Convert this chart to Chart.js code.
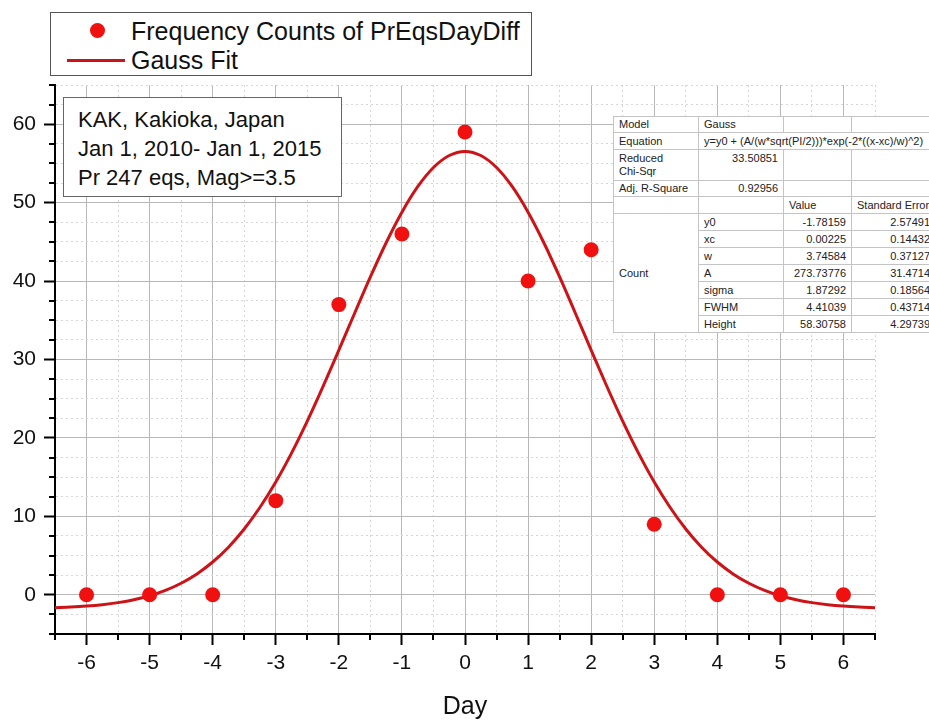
<!DOCTYPE html>
<html>
<head>
<meta charset="utf-8">
<script src="https://cdn.jsdelivr.net/npm/chart.js@4.4.1/dist/chart.umd.min.js"></script>
<style>
  body { margin: 0; background: #fff; font-family: 'Liberation Sans', Arial, sans-serif; }
  #page { position: relative; width: 929px; height: 720px; overflow: hidden; background: #fff; }
  #legendBox { position: absolute; left: 50px; top: 12px; width: 482px; height: 64px; border: 1px solid #555; box-sizing: border-box; background: #fff; }
  .lg-row { position: absolute; left: 80px; font-size: 25px; line-height: 30px; color: #111; white-space: nowrap; }
  .lg-dot { position: absolute; left: 39px; top: 10px; width: 15px; height: 15px; border-radius: 50%; background: #f01010; }
  .lg-line { position: absolute; left: 16px; top: 46px; width: 58px; height: 3px; background: #cc1418; }
  #infoBox { position: absolute; left: 63px; top: 97px; width: 279px; height: 100px; border: 1px solid #666; box-sizing: border-box; background: #fff; padding: 7px 0 0 14px; font-size: 22px; line-height: 29px; color: #111; white-space: nowrap; }
  #fitTable { position: absolute; left: 613px; top: 116px; width: 322px; border-collapse: collapse; table-layout: fixed; background: #fff; font-size: 11px; color: #222; border: 1px solid #888; }
  #fitTable td { border: 1px solid #c4c4c4; padding: 0 5px; line-height: 13px; white-space: nowrap; overflow: hidden; }
  #fitTable td.num { text-align: right; }
</style>
</head>
<body>
<div id="page">
  <canvas id="chart" width="929" height="720"></canvas>

  <div id="legendBox">
    <div class="lg-dot"></div>
    <div class="lg-row" style="top:3px">Frequency Counts of PrEqsDayDiff</div>
    <div class="lg-line"></div>
    <div class="lg-row" style="top:32px">Gauss Fit</div>
  </div>

  <div id="infoBox">KAK, Kakioka, Japan<br>Jan 1, 2010- Jan 1, 2015<br>Pr 247 eqs, Mag&gt;=3.5</div>

  <table id="fitTable">
    <colgroup><col style="width:85px"><col style="width:85px"><col style="width:68px"><col style="width:84px"></colgroup>
    <tbody id="fitBody"></tbody>
  </table>
</div>

<script>
// observed counts per day difference
const days = [-6, -5, -4, -3, -2, -1, 0, 1, 2, 3, 4, 5, 6];
const counts = [0, 0, 0, 12, 37, 46, 59, 40, 44, 9, 0, 0, 0];

// gauss fit curve
const fitDays = [-6.5, -6.25, -6, -5.75, -5.5, -5.25, -5, -4.75, -4.5, -4.25, -4, -3.75, -3.5, -3.25, -3, -2.75, -2.5, -2.25, -2, -1.75, -1.5, -1.25, -1, -0.75, -0.5, -0.25,
  0, 0.25, 0.5, 0.75, 1, 1.25, 1.5, 1.75, 2, 2.25, 2.5, 2.75, 3, 3.25, 3.5, 3.75, 4, 4.25, 4.5, 4.75, 5, 5.25, 5.5, 5.75, 6, 6.25, 6.5];
const fitCounts = [-1.64, -1.56, -1.44, -1.26, -1.00, -0.64, -0.13, 0.56, 1.47, 2.66, 4.18, 6.07, 8.39, 11.16, 14.38, 18.06, 22.14, 26.56, 31.19, 35.90, 40.53, 44.89, 48.78, 52.03, 54.48, 56.01,
  56.53, 56.01, 54.48, 52.03, 48.78, 44.89, 40.53, 35.90, 31.19, 26.56, 22.14, 18.06, 14.38, 11.16, 8.39, 6.07, 4.18, 2.66, 1.47, 0.56, -0.13, -0.64, -1.00, -1.26, -1.44, -1.56, -1.64];

// fit report table
const fitParams = ['y0', 'xc', 'w', 'A', 'sigma', 'FWHM', 'Height'];
const fitValues = ['-1.78159', '0.00225', '3.74584', '273.73776', '1.87292', '4.41039', '58.30758'];
const fitErrors = ['2.57491', '0.14432', '0.37127', '31.4714', '0.18564', '0.43714', '4.29739'];

const body = document.getElementById('fitBody');
body.innerHTML =
  '<tr style="height:16px"><td>Model</td><td>Gauss</td><td></td><td></td></tr>' +
  '<tr style="height:17px"><td>Equation</td><td colspan="3">y=y0 + (A/(w*sqrt(PI/2)))*exp(-2*((x-xc)/w)^2)</td></tr>' +
  '<tr style="height:31px"><td>Reduced<br>Chi-Sqr</td><td class="num" style="vertical-align:top;padding-top:2px">33.50851</td><td></td><td></td></tr>' +
  '<tr style="height:16px"><td>Adj. R-Square</td><td class="num">0.92956</td><td></td><td></td></tr>' +
  '<tr style="height:17px"><td></td><td></td><td>Value</td><td>Standard Error</td></tr>';
fitParams.forEach((p, i) => {
  const tr = document.createElement('tr');
  tr.style.height = '17px';
  tr.innerHTML = (i === 0 ? '<td rowspan="7">Count</td>' : '') +
    '<td>' + p + '</td><td class="num">' + fitValues[i] + '</td><td class="num">' + fitErrors[i] + '</td>';
  body.appendChild(tr);
});

const isWhole = (v) => Math.abs(v - Math.round(v)) < 1e-9;
const isTen = (v) => Math.abs(v / 10 - Math.round(v / 10)) < 1e-9;

// short ticks for the minor positions
const minorTicks = {
  id: 'minorTicks',
  afterDraw(chart) {
    const { ctx, chartArea, scales: { x, y } } = chart;
    ctx.save();
    ctx.strokeStyle = '#000';
    ctx.lineWidth = 2;
    ctx.beginPath();
    x.ticks.forEach((t) => {
      if (isWhole(t.value)) return;
      const px = Math.round(x.getPixelForValue(t.value));
      ctx.moveTo(px, chartArea.bottom);
      ctx.lineTo(px, chartArea.bottom + 6);
    });
    y.ticks.forEach((t) => {
      if (isTen(t.value)) return;
      const py = Math.round(y.getPixelForValue(t.value));
      ctx.moveTo(chartArea.left, py);
      ctx.lineTo(chartArea.left - 6, py);
    });
    ctx.stroke();
    ctx.restore();
  }
};

const font = { family: "'Liberation Sans', Arial, sans-serif", size: 21 };

new Chart(document.getElementById('chart').getContext('2d'), {
  type: 'scatter',
  data: {
    datasets: [
      {
        label: 'Frequency Counts of PrEqsDayDiff',
        data: days.map((d, i) => ({ x: d, y: counts[i] })),
        pointRadius: 7.5,
        pointBackgroundColor: '#f01010',
        pointBorderWidth: 0,
        showLine: false,
      },
      {
        label: 'Gauss Fit',
        data: fitDays.map((d, i) => ({ x: d, y: fitCounts[i] })),
        showLine: true,
        borderColor: '#cc1418',
        borderWidth: 3,
        pointRadius: 0,
        cubicInterpolationMode: 'monotone',
      },
    ],
  },
  options: {
    responsive: false,
    animation: false,
    layout: { padding: { top: 85, right: 54, left: 0, bottom: 0 } },
    plugins: { legend: { display: false }, tooltip: { enabled: false } },
    scales: {
      x: {
        type: 'linear',
        min: -6.5,
        max: 6.5,
        afterFit: (s) => { s.height = 86; },
        ticks: {
          stepSize: 0.5,
          autoSkip: false,
          maxRotation: 0,
          padding: 6,
          color: '#111',
          font: font,
          callback: (v) => (isWhole(v) ? String(v) : ''),
        },
        grid: {
          color: (c) => (c.tick && isWhole(c.tick.value) ? '#b8b8b8' : '#d6d6d6'),
          lineWidth: 1,
          tickLength: 11,
          tickWidth: 2,
          tickColor: (c) => (c.tick && isWhole(c.tick.value) ? '#000' : 'rgba(0,0,0,0)'),
        },
        border: {
          display: true,
          color: '#000',
          width: 2,
          dash: (c) => (c.tick && !isWhole(c.tick.value) ? [2, 3] : []),
        },
        title: {
          display: true,
          text: 'Day',
          color: '#111',
          font: { family: font.family, size: 25, lineHeight: 1 },
          padding: { top: 0, bottom: 0 },
        },
      },
      y: {
        min: -5,
        max: 65,
        afterFit: (s) => { s.width = 55; },
        ticks: {
          stepSize: 2.5,
          autoSkip: false,
          padding: 8,
          color: '#111',
          font: font,
          callback: (v) => (isTen(v) ? String(v) : ''),
        },
        grid: {
          color: (c) => (c.tick && isTen(c.tick.value) ? '#b8b8b8' : '#d6d6d6'),
          lineWidth: 1,
          tickLength: 11,
          tickWidth: 2,
          tickColor: (c) => (c.tick && isTen(c.tick.value) ? '#000' : 'rgba(0,0,0,0)'),
        },
        border: {
          display: true,
          color: '#000',
          width: 2,
          dash: (c) => (c.tick && !isTen(c.tick.value) ? [2, 3] : []),
        },
      },
    },
  },
  plugins: [minorTicks],
});
</script>
</body>
</html>
